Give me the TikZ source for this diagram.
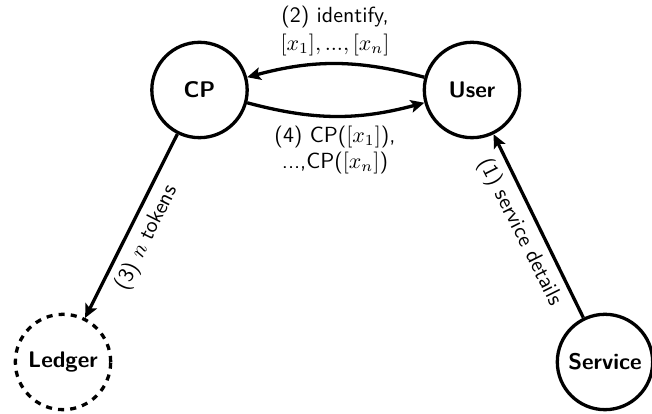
\documentclass[tikz,border=0pt]{standalone}
\usetikzlibrary{arrows.meta}
\renewcommand{\familydefault}{\sfdefault}
\tikzset{
  party/.style={circle,draw,line width=1.46pt,minimum size=42.2pt,inner sep=0pt,font=\sffamily\bfseries},
  flow/.style={line width=1.46pt,-{Stealth[length=6pt,width=5.6pt,inset=1.3pt]}},
  lab/.style={align=center,inner sep=0pt,font=\sffamily,scale=0.97}
}
\begin{document}
\begin{tikzpicture}[x=0.4425pt,y=-0.4425pt]
\useasboundingbox (0,0) rectangle (652,414);
\node[party] (cp) at (199.5,90) {CP};
\node[party] (user) at (472,90) {User};
\node[party,dash pattern=on 2.7pt off 2.7pt] (ledger) at (63,362) {Ledger};
\node[party] (service) at (605,362) {Service};
\draw[flow] (user) to[bend right=15] (cp);
\draw[flow] (cp) to[bend right=15] (user);
\draw[flow] (cp) -- (ledger);
\draw[flow] (service) -- (user);
\node[lab] (l2) at (335,31) {(2) identify,\\[0.8pt]$[x_1], ..., [x_n]$};
\node[lab] (l4) at (335,150) {(4) CP($[x_1]$),\\...,CP($[x_n]$)};
\node[lab,rotate=63.4] (l3) at (147,238) {(3) $n$ tokens};
\node[lab,rotate=-63.4] (l1) at (520,232) {(1) service details};
\end{tikzpicture}
\end{document}
